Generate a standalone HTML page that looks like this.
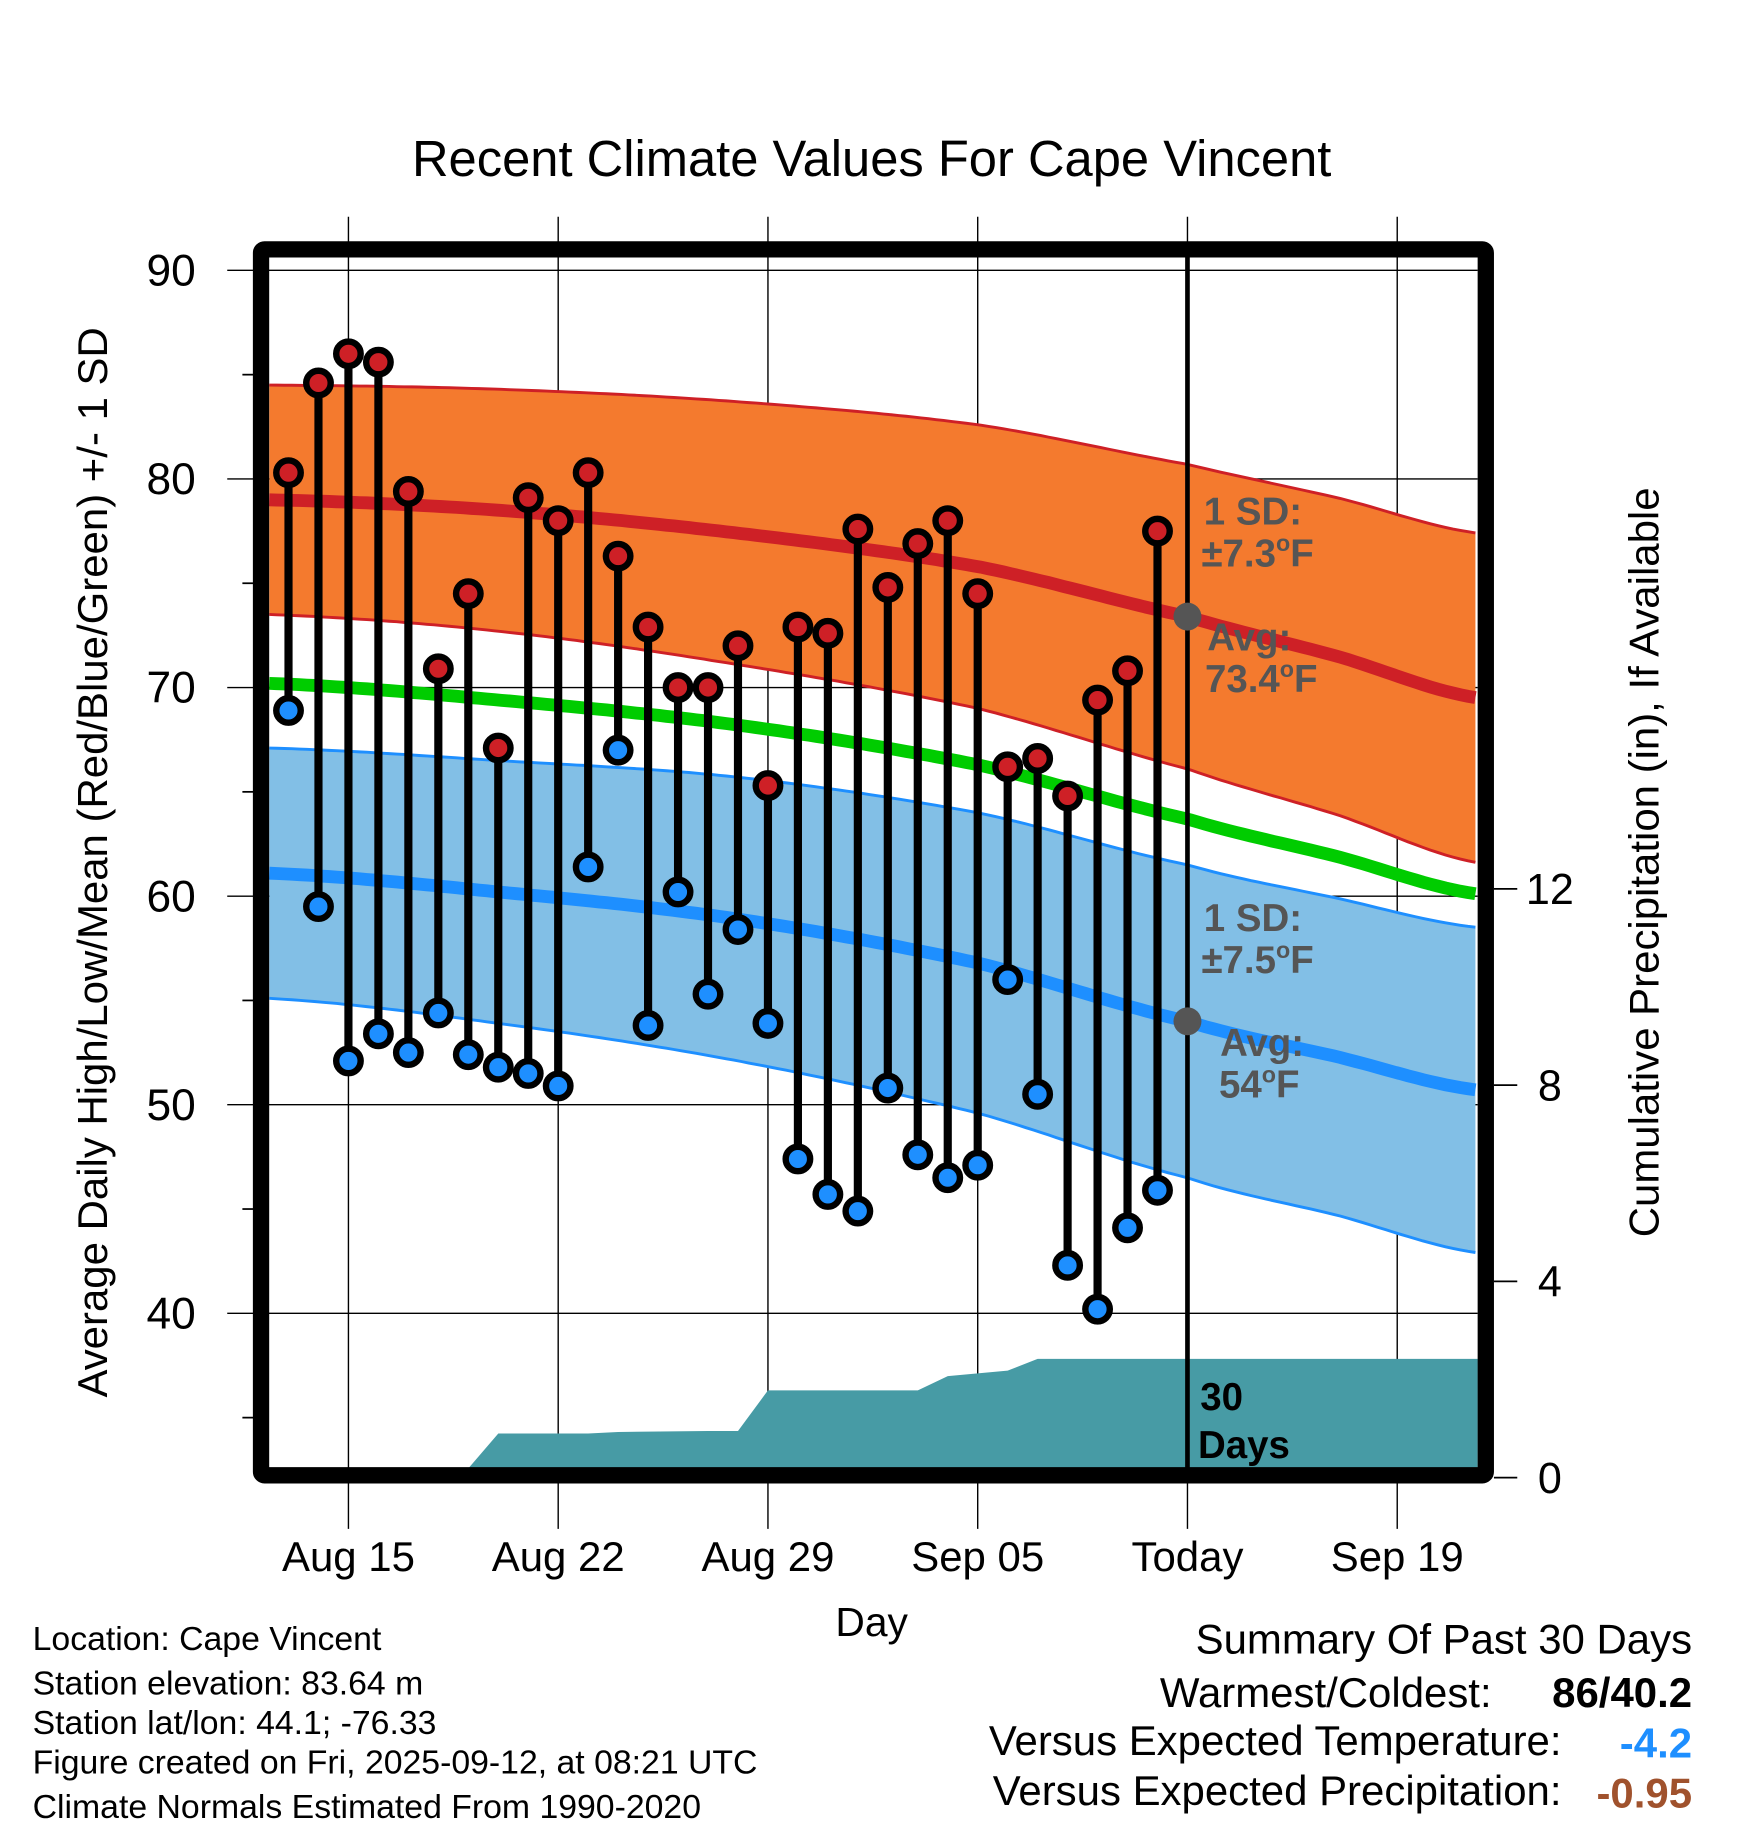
<!DOCTYPE html>
<html><head><meta charset="utf-8"><style>
html,body{margin:0;padding:0;background:#fff;}
svg{display:block;font-family:"Liberation Sans",Arial,sans-serif;}
</style></head><body>
<svg id="chart" width="1748" height="1828" viewBox="0 0 1500 1568.65" xmlns="http://www.w3.org/2000/svg">
<text x="748" y="151" font-size="43.5" text-anchor="middle">Recent Climate Values For Cape Vincent</text>
<g id="grid"></g>
<g id="bands"></g>
<g id="precip"></g>
<g id="marks"></g>
<g id="axes"></g>
<g font-weight="bold" font-size="33" fill="#555">
<text x="1033" y="450">1 SD:</text>
<text x="1031" y="486">±7.3<tspan font-size="20" dy="-13">o</tspan><tspan dy="13">F</tspan></text>
<text x="1036" y="558">Avg:</text>
<text x="1034" y="594">73.4<tspan font-size="20" dy="-13">o</tspan><tspan dy="13">F</tspan></text>
<text x="1033" y="799">1 SD:</text>
<text x="1031" y="835">±7.5<tspan font-size="20" dy="-13">o</tspan><tspan dy="13">F</tspan></text>
<text x="1047" y="906">Avg:</text>
<text x="1046" y="942">54<tspan font-size="20" dy="-13">o</tspan><tspan dy="13">F</tspan></text>
<text x="1030" y="1210" fill="#000">30</text>
<text x="1028" y="1251" fill="#000">Days</text>
</g>
<text transform="translate(92,740) rotate(-90)" font-size="36" text-anchor="middle">Average Daily High/Low/Mean (Red/Blue/Green) +/- 1 SD</text>
<text transform="translate(1423,740) rotate(-90)" font-size="36" text-anchor="middle">Cumulative Precipitation (in), If Available</text>
<text x="748" y="1404" font-size="35" text-anchor="middle">Day</text>
<g font-size="29">
<text x="28" y="1416">Location: Cape Vincent</text>
<text x="28" y="1454">Station elevation: 83.64 m</text>
<text x="28" y="1488">Station lat/lon: 44.1; -76.33</text>
<text x="28" y="1522">Figure created on Fri, 2025-09-12, at 08:21 UTC</text>
<text x="28" y="1560">Climate Normals Estimated From 1990-2020</text>
</g>
<g font-size="36">
<text x="1452" y="1419" text-anchor="end">Summary Of Past 30 Days</text>
<text x="1280" y="1465" text-anchor="end">Warmest/Coldest:</text>
<text x="1452" y="1465" text-anchor="end" font-weight="bold">86/40.2</text>
<text x="1340" y="1506" text-anchor="end">Versus Expected Temperature:</text>
<text x="1452" y="1508" text-anchor="end" font-weight="bold" fill="#1E8FFF">-4.2</text>
<text x="1340" y="1549" text-anchor="end">Versus Expected Precipitation:</text>
<text x="1452" y="1551" text-anchor="end" font-weight="bold" fill="#A0522D">-0.95</text>
</g>
</svg>
<script>
// day numbers: days since Jul 31 (Aug 1 = 1, Sep 1 = 32)
const obsDays = [13,14,15,16,17,18,19,20,21,22,23,24,25,26,27,28,29,30,31,32,33,34,35,36,37,38,39,40,41,42];
const highs = [80.3,84.6,86,85.6,79.4,70.9,74.5,67.1,79.1,78.0,80.3,76.3,72.9,70.0,70.0,72.0,65.3,72.9,72.6,77.6,74.8,76.9,78.0,74.5,66.2,66.6,64.8,69.4,70.8,77.5];
const lows = [68.9,59.5,52.1,53.4,52.5,54.4,52.4,51.8,51.5,50.9,61.4,67.0,53.8,60.2,55.3,58.4,53.9,47.4,45.7,44.9,50.8,47.6,46.5,47.1,56.0,50.5,42.3,40.2,44.1,45.9];
const normDays = [12.36,20,28,36,43,48,52.69];
const hiAvg = [79.0,78.5,77.4,75.8,73.4,71.5,69.5];
const hiSD = [5.5,5.8,6.3,6.8,7.3,7.6,7.9];
const loAvg = [61.1,60.2,58.9,56.8,54.0,52.3,50.7];
const loSD = [6.0,6.3,6.8,7.2,7.5,7.6,7.8];
const meanAvg = [70.2,69.4,68.2,66.3,63.7,61.9,60.1];
const precipDays = [12.36,19,20,23,24,27,28,29,34,35,37,38,52.69];
const precipCum = [0,0,0.9,0.9,0.93,0.95,0.95,1.78,1.78,2.07,2.18,2.42,2.42];
const xTickDays = [15,22,29,36,43,50];
const xTickLabels = ["Aug 15","Aug 22","Aug 29","Sep 05","Today","Sep 19"];
const yTicks = [40,50,60,70,80,90];
const y2Ticks = [0,4,8,12];
const todayDay = 43;

const NS="http://www.w3.org/2000/svg";
const X0=231,X1=1268,Y0=221,Y1=1260;
const xs=d=>299+(d-15)*25.714;
const ys=v=>232+(90-v)*17.9;
const ps=p=>1268-p*42.1;
function mk(parent,tag,attrs){const e=document.createElementNS(NS,tag);for(const k in attrs)e.setAttribute(k,attrs[k]);document.getElementById(parent).appendChild(e);return e;}
function interp(arr,d){
  const n=normDays.length;
  let i=0; while(i<n-2 && d>normDays[i+1]) i++;
  const t=(d-normDays[i])/(normDays[i+1]-normDays[i]);
  const p0=arr[Math.max(i-1,0)],p1=arr[i],p2=arr[i+1],p3=arr[Math.min(i+2,n-1)];
  const t2=t*t,t3=t2*t;
  return 0.5*((2*p1)+(-p0+p2)*t+(2*p0-5*p1+4*p2-p3)*t2+(-p0+3*p1-3*p2+p3)*t3);
}
function smooth(fn){const pts=[];for(let d=normDays[0];d<=normDays[normDays.length-1]+0.001;d+=0.25){pts.push([xs(d),ys(fn(d))]);}return pts;}
const P=pts=>pts.map((p,i)=>(i?'L':'M')+p[0].toFixed(1)+' '+p[1].toFixed(1)).join(' ');

xTickDays.forEach((d,i)=>{
  let l=mk('grid','line',{x1:xs(d),x2:xs(d),y1:186,y2:1312,stroke:'#000','stroke-width':1.2});
  
  
});
yTicks.forEach(v=>{
  let l=mk('grid','line',{x1:195,x2:X1,y1:ys(v),y2:ys(v),stroke:'#000','stroke-width':1.2});
  
  
});

function band(avg,sd,fill,edge){
  const up=smooth(d=>interp(avg,d)+interp(sd,d)), lo=smooth(d=>interp(avg,d)-interp(sd,d));
  let b=mk('bands','path',{d:P(up)+' '+P(lo.slice().reverse()).replace('M','L')+' Z',fill:fill});
  
  
  [up,lo].forEach(p=>{let e=mk('bands','path',{d:P(p),fill:'none',stroke:edge,'stroke-width':2.5});
    
    });
}
band(hiAvg,hiSD,'#F47A2E','#CE2026');
band(loAvg,loSD,'#82BFE6','#1E8FFF');
[[hiAvg,'#CE2026','avg-high-line'],[meanAvg,'#00CC00','avg-mean-line'],[loAvg,'#1E8FFF','avg-low-line']].forEach(a=>{
  let l=mk('bands','path',{d:P(smooth(d=>interp(a[0],d))),fill:'none',stroke:a[1],'stroke-width':11});
  
  
});

{
  const pts=precipDays.map((d,i)=>[xs(d),Math.min(ps(precipCum[i]),Y1)]);
  let a=mk('precip','path',{d:P(pts)+` L ${X1} ${Y1} L ${X0} ${Y1} Z`,fill:'#479BA5'});
  
  
}

{
  let t=mk('marks','line',{x1:xs(todayDay),x2:xs(todayDay),y1:Y0,y2:Y1,stroke:'#000','stroke-width':4});
  
  
  [hiAvg,loAvg].forEach(arr=>{
    let c=mk('marks','circle',{cx:xs(todayDay),cy:ys(interp(arr,todayDay)),r:12,fill:'#555'});
    
    
  });
}

obsDays.forEach((d,i)=>{
  const x=xs(d);
  let s=mk('marks','line',{x1:x,x2:x,y1:ys(highs[i]),y2:ys(lows[i]),stroke:'#000','stroke-width':7});
  
  
  [[highs[i],'#CE2026','daily-high'],[lows[i],'#1E8FFF','daily-low']].forEach(p=>{
    let c=mk('marks','circle',{cx:x,cy:ys(p[0]),r:10.5,fill:p[1],stroke:'#000','stroke-width':5.5});
    
    
  });
});

{
  let f=mk('axes','rect',{x:224,y:214,width:1051,height:1052,fill:'none',stroke:'#000','stroke-width':14,rx:3});
  
  
  for(let v=35;v<=90;v+=5){
    if(v%10===0)continue;
    let m=mk('axes','line',{x1:208,x2:218,y1:ys(v),y2:ys(v),stroke:'#000','stroke-width':1.5});
    
    
  }
  yTicks.forEach(v=>{
    let t=mk('axes','text',{x:168,y:ys(v)+13,'font-size':38,'text-anchor':'end'});
    t.textContent=v;
    
    
  });
  y2Ticks.forEach(p=>{
    let l=mk('axes','line',{x1:1282,x2:1302,y1:ps(p),y2:ps(p),stroke:'#000','stroke-width':1.5});
    
    
    let t=mk('axes','text',{x:1330,y:ps(p)+13,'font-size':37,'text-anchor':'middle'});
    t.textContent=p;
    
    
  });
  xTickDays.forEach((d,i)=>{
    let t=mk('axes','text',{x:xs(d),y:1348,'font-size':36,'text-anchor':'middle'});
    t.textContent=xTickLabels[i];
    
    
  });
}
</script>
</body></html>
